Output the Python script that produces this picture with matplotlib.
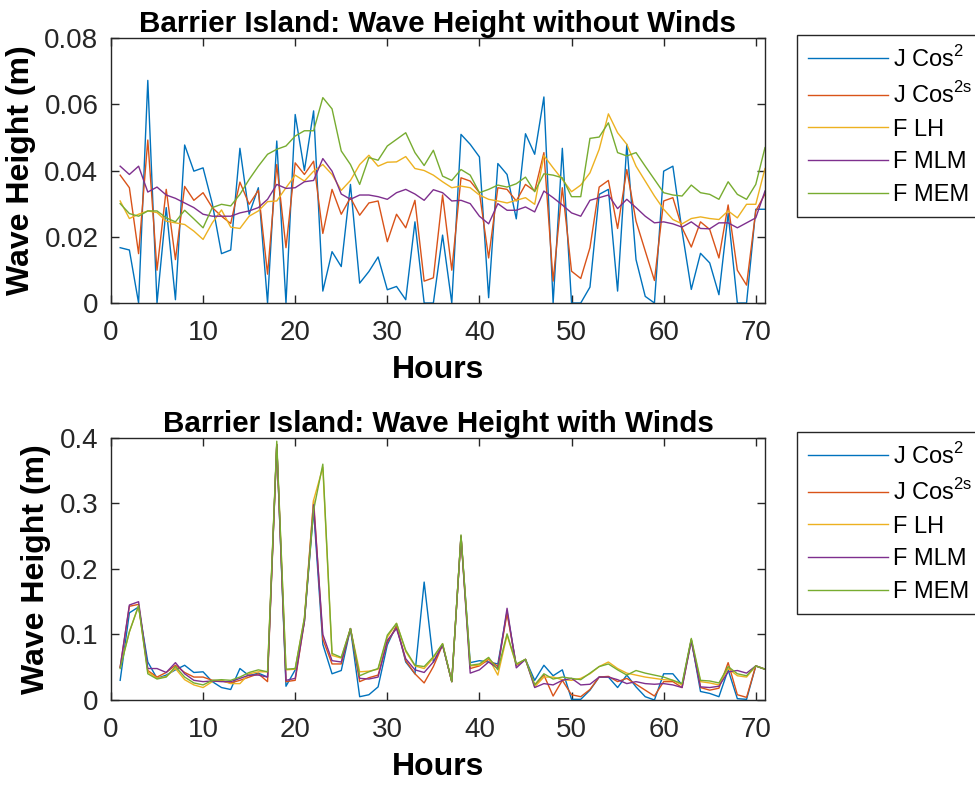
import numpy as np
import matplotlib
matplotlib.use("Agg")
from matplotlib import pyplot as plt
from matplotlib.ticker import FuncFormatter

plt.rcParams['font.family'] = ['Liberation Sans', 'DejaVu Sans']
plt.rcParams['mathtext.fontset'] = 'custom'
plt.rcParams['mathtext.rm'] = 'Liberation Sans'

hours = np.arange(1, 72)
labels = ['J Cos$^{\\mathrm{2}}$', 'J Cos$^{\\mathrm{2s}}$', 'F LH', 'F MLM', 'F MEM']
colors = ['#0072BD', '#D95319', '#EDB120', '#7E2F8E', '#77AC30']

# without winds
jcos2_calm = [0.0167, 0.016, 0.0, 0.0672, 0.0, 0.0288, 0.001, 0.0477, 0.0398, 0.0408,
              0.030, 0.0149, 0.016, 0.0467, 0.0268, 0.0348, 0.0, 0.0489, 0.0, 0.0569,
              0.040, 0.058, 0.0036, 0.0155, 0.011, 0.0358, 0.006, 0.0095, 0.0139, 0.004,
              0.005, 0.001, 0.0245, 0.0, 0.0, 0.0205, 0.0, 0.0509, 0.0479, 0.0441,
              0.0016, 0.0421, 0.0388, 0.0254, 0.0511, 0.0449, 0.0622, 0.0, 0.0467, 0.0,
              0.0, 0.0048, 0.0328, 0.0343, 0.0036, 0.0479, 0.0131, 0.002, 0.0, 0.0398,
              0.0413, 0.0217, 0.0041, 0.015, 0.0121, 0.0025, 0.027, 0.0, 0.0, 0.0283,
              0.0283]
jcos2s_calm = [0.0386, 0.0348, 0.0149, 0.0492, 0.0099, 0.0343, 0.0131, 0.0352, 0.031, 0.0333,
               0.0288, 0.0262, 0.024, 0.0365, 0.0298, 0.034, 0.0087, 0.0418, 0.0167, 0.0423,
               0.0388, 0.0428, 0.021, 0.0343, 0.0268, 0.0318, 0.0265, 0.0302, 0.0308, 0.0185,
               0.0268, 0.0227, 0.031, 0.0066, 0.0076, 0.0326, 0.0099, 0.0378, 0.0368, 0.0333,
               0.0136, 0.0348, 0.0343, 0.0308, 0.0358, 0.0338, 0.0454, 0.0066, 0.0348, 0.0096,
               0.0074, 0.0167, 0.035, 0.037, 0.0225, 0.0403, 0.0247, 0.0157, 0.0068, 0.0308,
               0.0318, 0.0227, 0.0169, 0.0245, 0.0222, 0.0136, 0.0296, 0.0099, 0.0054, 0.0278,
               0.0329]
flh_calm = [0.0308, 0.0255, 0.0268, 0.0278, 0.0273, 0.0247, 0.0242, 0.0237, 0.0217, 0.0192,
            0.0242, 0.0281, 0.0229, 0.0225, 0.0262, 0.0278, 0.0306, 0.0308, 0.0348, 0.0386,
            0.0368, 0.0398, 0.0418, 0.0388, 0.034, 0.037, 0.0418, 0.0446, 0.0413, 0.0425,
            0.0426, 0.0442, 0.0406, 0.04, 0.0386, 0.0366, 0.0348, 0.0353, 0.0348, 0.0326,
            0.0313, 0.0308, 0.0302, 0.031, 0.0318, 0.0298, 0.0445, 0.0408, 0.0373, 0.0336,
            0.0356, 0.0393, 0.0464, 0.0571, 0.0514, 0.0479, 0.0413, 0.0368, 0.0323, 0.0283,
            0.0252, 0.0239, 0.0255, 0.026, 0.0255, 0.0252, 0.0278, 0.0257, 0.0298, 0.0298,
            0.0406]
fmlm_calm = [0.0413, 0.0388, 0.0413, 0.0335, 0.035, 0.0326, 0.0316, 0.0302, 0.0288, 0.0268,
             0.0262, 0.0262, 0.0262, 0.0272, 0.0278, 0.0288, 0.0313, 0.0358, 0.0346, 0.0348,
             0.0366, 0.037, 0.0436, 0.0398, 0.0329, 0.0313, 0.0326, 0.0326, 0.0321, 0.0313,
             0.0333, 0.0343, 0.0329, 0.031, 0.0342, 0.0333, 0.0308, 0.031, 0.03, 0.0262,
             0.0239, 0.03, 0.028, 0.028, 0.029, 0.0275, 0.0338, 0.0318, 0.0296, 0.0272,
             0.0262, 0.031, 0.0318, 0.0326, 0.0285, 0.0313, 0.0288, 0.0262, 0.0242, 0.0245,
             0.0239, 0.0229, 0.0245, 0.0225, 0.0224, 0.0242, 0.0242, 0.0227, 0.0242, 0.0257,
             0.0338]
fmem_calm = [0.03, 0.027, 0.0262, 0.0278, 0.0278, 0.0257, 0.0245, 0.028, 0.0254, 0.0227,
             0.0288, 0.0298, 0.0293, 0.0328, 0.0373, 0.0413, 0.0449, 0.0464, 0.0474, 0.0504,
             0.052, 0.052, 0.062, 0.0586, 0.0459, 0.0418, 0.0358, 0.0439, 0.0431, 0.0474,
             0.0494, 0.0514, 0.0454, 0.0415, 0.0461, 0.0383, 0.037, 0.0403, 0.0386, 0.0333,
             0.0343, 0.0356, 0.035, 0.036, 0.038, 0.0336, 0.039, 0.0386, 0.0378, 0.0321,
             0.0321, 0.0497, 0.0501, 0.0544, 0.0454, 0.0444, 0.0454, 0.0413, 0.0373, 0.0333,
             0.0326, 0.0323, 0.0356, 0.0333, 0.0328, 0.0313, 0.0366, 0.0328, 0.0313, 0.0358,
             0.0469]

# with winds
jcos2_wind = [0.030, 0.133, 0.142, 0.058, 0.033, 0.038, 0.046, 0.053, 0.042, 0.043,
              0.028, 0.019, 0.016, 0.048, 0.037, 0.041, 0.035, 0.39, 0.021, 0.046,
              0.12, 0.29, 0.085, 0.040, 0.045, 0.109, 0.005, 0.008, 0.020, 0.084,
              0.114, 0.058, 0.040, 0.18, 0.058, 0.084, 0.028, 0.25, 0.057, 0.060,
              0.058, 0.055, 0.135, 0.053, 0.062, 0.030, 0.053, 0.037, 0.046, 0.001,
              0.001, 0.015, 0.035, 0.035, 0.019, 0.038, 0.020, 0.005, 0.0, 0.040,
              0.040, 0.023, 0.092, 0.013, 0.010, 0.005, 0.046, 0.002, 0.001, 0.052,
              0.047]
jcos2s_wind = [0.050, 0.143, 0.146, 0.045, 0.035, 0.042, 0.053, 0.042, 0.035, 0.035,
               0.030, 0.029, 0.026, 0.030, 0.035, 0.040, 0.028, 0.39, 0.028, 0.030,
               0.12, 0.305, 0.093, 0.055, 0.055, 0.109, 0.028, 0.034, 0.038, 0.088,
               0.112, 0.060, 0.040, 0.026, 0.051, 0.084, 0.028, 0.25, 0.048, 0.052,
               0.062, 0.051, 0.132, 0.053, 0.062, 0.023, 0.038, 0.006, 0.030, 0.008,
               0.005, 0.016, 0.035, 0.036, 0.028, 0.033, 0.024, 0.015, 0.006, 0.028,
               0.028, 0.019, 0.092, 0.019, 0.015, 0.018, 0.057, 0.008, 0.004, 0.052,
               0.047]
flh_wind = [0.050, 0.104, 0.144, 0.043, 0.033, 0.036, 0.048, 0.031, 0.023, 0.019,
            0.028, 0.030, 0.025, 0.025, 0.040, 0.043, 0.043, 0.39, 0.046, 0.047,
            0.125, 0.305, 0.355, 0.068, 0.064, 0.109, 0.043, 0.044, 0.047, 0.096,
            0.117, 0.074, 0.052, 0.048, 0.064, 0.086, 0.028, 0.25, 0.052, 0.053,
            0.064, 0.038, 0.099, 0.054, 0.062, 0.020, 0.035, 0.035, 0.031, 0.030,
            0.033, 0.040, 0.051, 0.058, 0.048, 0.041, 0.038, 0.035, 0.033, 0.031,
            0.030, 0.023, 0.092, 0.028, 0.026, 0.023, 0.048, 0.037, 0.035, 0.052,
            0.047]
fmlm_wind = [0.050, 0.145, 0.150, 0.048, 0.048, 0.042, 0.057, 0.040, 0.030, 0.028,
             0.029, 0.028, 0.028, 0.033, 0.038, 0.038, 0.035, 0.39, 0.030, 0.033,
             0.12, 0.298, 0.100, 0.060, 0.058, 0.109, 0.033, 0.032, 0.035, 0.091,
             0.109, 0.063, 0.046, 0.042, 0.058, 0.084, 0.028, 0.25, 0.041, 0.046,
             0.058, 0.048, 0.140, 0.049, 0.062, 0.019, 0.025, 0.023, 0.030, 0.033,
             0.023, 0.024, 0.035, 0.035, 0.031, 0.025, 0.028, 0.025, 0.024, 0.025,
             0.023, 0.019, 0.090, 0.020, 0.019, 0.021, 0.043, 0.045, 0.041, 0.052,
             0.047]
fmem_wind = [0.048, 0.104, 0.144, 0.040, 0.032, 0.035, 0.051, 0.035, 0.026, 0.023,
             0.030, 0.031, 0.030, 0.035, 0.042, 0.046, 0.043, 0.395, 0.047, 0.048,
             0.125, 0.29, 0.36, 0.071, 0.065, 0.109, 0.037, 0.043, 0.048, 0.099,
             0.117, 0.076, 0.053, 0.051, 0.066, 0.086, 0.028, 0.252, 0.053, 0.055,
             0.065, 0.046, 0.101, 0.055, 0.062, 0.023, 0.040, 0.032, 0.035, 0.033,
             0.031, 0.041, 0.051, 0.055, 0.046, 0.038, 0.045, 0.041, 0.038, 0.035,
             0.030, 0.025, 0.094, 0.030, 0.029, 0.026, 0.051, 0.040, 0.037, 0.052,
             0.047]

calm = [jcos2_calm, jcos2s_calm, flh_calm, fmlm_calm, fmem_calm]
wind = [jcos2_wind, jcos2s_wind, flh_wind, fmlm_wind, fmem_wind]

fig = plt.figure(figsize=(9.75, 7.85), dpi=100)
ax1 = fig.add_axes([0.1138, 0.614, 0.6708, 0.3376])
ax2 = fig.add_axes([0.1138, 0.1083, 0.6708, 0.3338])


def fmt(v, pos):
    return '0' if v == 0 else ('%g' % v)


def style(ax, series, title, ymax, ystep, legend_top):
    for s, lab, c in zip(series, labels, colors):
        ax.plot(hours, s, color=c, lw=1.0, label=lab)
    ax.set_xlim(0, 71)
    ax.set_ylim(0, ymax)
    ax.set_xticks(np.arange(0, 71, 10))
    ax.set_yticks(np.arange(0, ymax + ystep / 2, ystep))
    ax.yaxis.set_major_formatter(FuncFormatter(fmt))
    ax.tick_params(direction='in', top=True, right=True, length=6, width=1,
                   labelsize=20, colors='#262626')
    ax.tick_params(axis='y', pad=9)
    ax.tick_params(axis='x', pad=12)
    for sp in ax.spines.values():
        sp.set_color('#262626')
        sp.set_linewidth(1.0)
    ax.set_title(title, fontsize=21.3, fontweight='bold', pad=4)
    ax.set_xlabel('Hours', fontsize=23, fontweight='bold', labelpad=7)
    ax.set_ylabel('Wave Height (m)', fontsize=23, fontweight='bold', labelpad=6)
    leg = ax.legend(loc='upper left', bbox_to_anchor=(797 / 975, 1 - legend_top / 785),
                    bbox_transform=fig.transFigure, borderaxespad=0, fontsize=17,
                    handlelength=3.4, handletextpad=0.2, labelspacing=0.45,
                    borderpad=0.45, fancybox=False, framealpha=1, edgecolor='#262626')
    leg.get_frame().set_linewidth(1.0)


style(ax1, calm, 'Barrier Island: Wave Height without Winds', 0.08, 0.02, 35)
style(ax2, wind, 'Barrier Island: Wave Height with Winds', 0.4, 0.1, 432)

fig.savefig('out.png', dpi=100)
